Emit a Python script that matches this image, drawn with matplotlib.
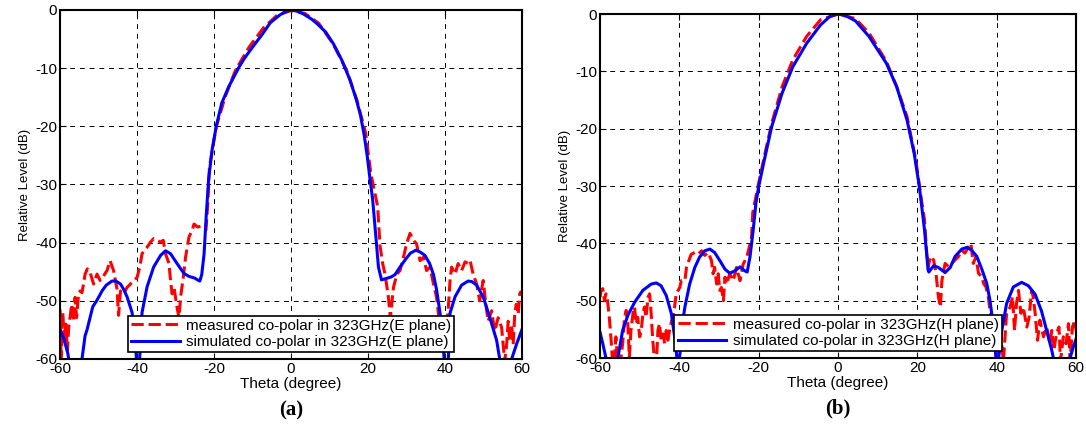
import matplotlib
matplotlib.use('Agg')
import matplotlib.pyplot as plt

plt.rcParams['font.family'] = ['Liberation Sans', 'DejaVu Sans']
plt.rcParams['axes.unicode_minus'] = False

# E plane, simulated (theta in degree, level in dB)
e_sim_theta = [-60, -59, -58, -57.5, -56, -55, -54.3, -53.5, -53, -51.5, -50.5, -49, -48, -46.5,
               -45.5, -44.3, -43.5, -42.6, -41.3, -40.5, -40, -39.5, -38.7, -37.4, -35.7, -33.9,
               -32.6, -31.3, -29.6, -27.8, -26.5, -25, -24.3, -23.7, -23.2, -22.6, -22.0, -21.4,
               -20.5, -19.4, -18, -16.2, -13.5, -12, -9.9, -7.5, -5.4, -3, -1.5, 0, 1.5, 3, 5.4,
               7, 9, 11, 13.1, 15.3, 17, 18, 19, 19.8, 20.5, 21.2, 22.1, 22.7, 23.5, 24.5, 26, 27,
               28.3, 29.7, 31, 32.4, 33.5, 34.8, 36, 37, 37.8, 38.7, 39.5, 40, 40.7, 41.3, 42.6,
               44.3, 46, 47, 48.2, 49.9, 51.6, 53.4, 54.2, 55, 56.5, 57.3, 58.6, 60]
e_sim_db = [-55, -56.5, -59, -61, -66, -63, -60, -56, -55, -51, -50, -48.2, -47.3, -46.6,
            -46.6, -47.1, -48, -49.3, -52, -56, -62, -62, -52, -47.6, -44.2, -42.2,
            -41.4, -41.9, -43.6, -45.3, -45.8, -46.1, -46.4, -46.6, -45.5, -42, -35, -29,
            -24, -19.9, -16, -13.2, -9.8, -8.2, -6.3, -4.2, -2.2, -0.9, -0.3, 0, -0.2, -0.6, -1.6,
            -2.5, -3.8, -5.8, -8.5, -12, -15.5, -18, -21.5, -25.2, -29, -32.6, -39.5, -44.2, -46.4,
            -46.2, -45.9, -45.5, -44.2, -42.9, -41.8, -41.3, -41.6, -42.2, -43.6, -45.5, -48.1,
            -52.1, -57, -63, -63, -52.1, -49.3, -47.3, -46.6, -46.7, -47.3, -49.3, -52.8, -56.8,
            -60, -64, -64, -60, -57.4, -54.9]

# E plane, measured
e_meas_theta = [-60, -59.7, -59.3, -58.9, -58.5, -58.1, -57.7, -57.4, -57, -56.5, -56.1, -55.7,
                -55.2, -54.8, -54.3, -53.9, -53.5, -52.9, -52.2, -51.3, -50.4, -49.6, -48.7,
                -47.8, -47, -46.1, -45.2, -44.8, -44.3, -43.5, -42.6, -41.7, -40.9, -40, -39.3,
                -38.7, -38.1, -37.4, -36.5, -35.7, -34.8, -33.9, -33.2, -32.6, -31.7, -31.3,
                -30.9, -30.4, -30, -29.6, -29.1, -28.7, -28, -27.4, -26.5, -25.7, -25.2, -24.3,
                -23.4, -22.1, -21.6, -21.2, -19.4, -17.1, -14.4, -10.8, -7.2, -3.6, 0, 3.6, 7.2,
                10.8, 14.4, 17.1, 19.4, 20.7, 21.6, 22.5, 23.1, 23.8, 24.4, 25.3, 25.8, 26.6,
                27.5, 28.3, 29.2, 30, 30.9, 31.8, 32.6, 33.5, 34.4, 35.2, 36.1, 37, 37.8, 38.3,
                38.7, 39.5, 40.3, 40.8, 41.3, 41.7, 42.6, 43.4, 44.3, 45.2, 46, 46.5, 47.3, 48.2,
                49, 49.9, 50.6, 51.2, 52.1, 52.9, 53.8, 54.7, 55.5, 56, 56.4, 56.8, 57.3, 57.7,
                58.1, 58.5, 59, 59.4, 59.8]
e_meas_db = [-51.5, -60.5, -52, -57, -54, -58.5, -54, -52.9, -50.6, -53.5, -49.4, -52.9,
             -48.8, -48.3, -48.6, -47.1, -45.4, -44.5, -45.1, -47.1, -45.4, -46.5, -45.7,
             -44.8, -43.1, -44.8, -48, -52.5, -48.3, -48.8, -47.7, -47.1, -46.5, -46, -44.2,
             -41.9, -41.3, -40.8, -39.9, -39.3, -39.6, -39.9, -39.6, -41.9, -43.6, -46.5,
             -48.8, -47.7, -49.4, -51.2, -52.9, -49.4, -46, -42.5, -39, -37.9, -36.8, -37.3,
             -37.2, -37.8, -33, -27, -20, -14.9, -10.3, -6.3, -3.1, -0.9, -0.1, -0.6, -2.3,
             -5.7, -10.3, -15.5, -21.2, -28, -30.9, -33.8, -40.5, -43.6, -45.4, -49.4, -53, -47.7,
             -45.4, -44.8, -42.5, -40.2, -38.4, -39.6, -40.2, -43.1, -42.5, -44.8, -44.2, -47.1,
             -49.4, -52.3, -55.2, -57, -55, -51.7, -46.5, -44.2, -45.4, -43.6, -44.8, -43.3,
             -43.6, -43.1, -45.4, -47.1, -50, -46.5, -50.6, -53.5, -51.7, -55.2, -52.9, -54.6,
             -60.5, -57.5, -53.5, -57, -54.1, -57.5, -52.3, -50.6, -52.3, -48.8, -48.3]

# H plane, simulated
h_sim_theta = [-60, -59.3, -58.5, -57.5, -56.5, -55.5, -54.3, -53, -51.3, -49.2, -47.1, -45.8,
               -44.6, -43.3, -42, -41.2, -40.6, -40.2, -39.8, -39.5, -38.6, -37.4, -36.1, -34.9,
               -33.6, -32.3, -31.1, -29.8, -28.5, -27.3, -26, -24.7, -23.5, -22.9, -22.2, -21.4,
               -20.7, -20, -18.4, -16.7, -14.1, -11.4, -7.9, -4.4, -2, 0, 2, 4.4, 7.8, 12.2, 14.8,
               17.4, 19.2, 20.5, 21.8, 22.7, 22.9, 24.1, 25.3, 27, 28.3, 29.5, 31.2, 32.5, 33.7,
               35, 36.2, 37.5, 38.3, 39.2, 39.6, 39.8, 40.1, 40.5, 41.3, 42.5, 44.2, 46.3, 48,
               49.7, 51.3, 52.6, 53.9, 54.3, 55.5, 57.5, 58.5, 59.3, 60]
h_sim_db = [-55.5, -57.5, -60, -64, -64, -60, -55.2, -52.6, -50.3, -48.2, -47.1, -46.9,
            -47.4, -49.1, -52.3, -56.3, -60, -61, -59, -55.2, -51.1, -47.1, -44.2, -42.4,
            -41.3, -41, -41.6, -43, -44.5, -45.2, -44.8, -44.1, -44.8, -45, -42.4, -37.8,
            -33, -30.1, -24.9, -19.6, -13.8, -9.2, -5.1, -1.9, -0.4, 0, -0.3, -1.2, -3.9, -8.6, -12.7,
            -18.5, -24.3, -30.1, -37.6, -44.6, -45, -43.9, -44.2, -45.1, -44.2, -42.3, -41, -40.7, -41.2,
            -42.3, -44.4, -47, -49.9, -54.6, -58.1, -60, -61, -60, -55.2, -50.5, -47.6, -46.8, -47.4,
            -48.9, -51.8, -55.2, -58.7, -60, -64, -64, -60, -58.1, -56.7]

# H plane, measured
h_meas_theta = [-60, -59.7, -59.3, -58.9, -58.5, -58.1, -57.6, -57.2, -56.8, -56.4, -56, -55.5,
                -54.9, -54.3, -53.8, -53.4, -53, -52.6, -52.2, -51.7, -51.3, -50.9, -50.5, -50,
                -49.6, -49.2, -48.8, -48.4, -47.9, -47.5, -47.1, -46.7, -46.2, -45.8, -45.4, -45,
                -44.6, -44.1, -43.7, -43.3, -42.9, -42.3, -41.7, -41.2, -40.8, -39.9, -39.5,
                -38.6, -38.2, -37.6, -37, -36.1, -35.3, -34.4, -33.6, -32.7, -31.9, -31.5, -31.1,
                -30.6, -30.2, -29.8, -29.4, -28.9, -28.5, -28.1, -27.3, -26.4, -25.6, -24.7,
                -23.9, -23, -22.6, -21.8, -21.5, -20.2, -18.4, -16.7, -14.1, -11.4, -7.9, -4.4, 0,
                4.4, 7.9, 12.2, 14.8, 17.4, 19.6, 20.9, 21.8, 22.4, 22.8, 23.2, 24.1, 24.7, 25.3,
                25.8, 26.2, 27, 27.9, 28.7, 29.5, 30.4, 31.2, 32, 32.9, 33.5, 34.1, 34.8, 35.4,
                36.2, 36.7, 37.3, 37.9, 38.3, 39, 39.6, 40, 40.9, 41.7, 42.5, 43.4, 44, 44.5, 45,
                45.5, 46.1, 46.7, 47.6, 48.2, 48.8, 49.2, 49.7, 50.3, 50.9, 51.8, 52.6, 53.4, 53.9,
                54.4, 55.1, 55.7, 56.1, 56.8, 57.5, 58.1, 58.5, 59.1, 59.7, 60]
h_meas_db = [-49.4, -48.2, -47.9, -50, -48.8, -50, -53.4, -56.9, -61, -61, -56.3, -61,
             -61, -57.5, -52.9, -51.7, -54, -59.8, -55.2, -52.3, -51.1, -54, -52.9, -56.3,
             -55.2, -52.3, -51.1, -52.9, -49.4, -48.8, -52.3, -56.9, -61, -61, -55.2, -54,
             -56.9, -55.8, -57.5, -55.2, -56.9, -54.5, -53, -51.1, -48.8, -47.7, -46.5,
             -46.5, -44.2, -43, -41.9, -41.6, -41.9, -41.3, -42.1, -41.6, -43, -45.3, -44.2,
             -47.1, -45.3, -48.2, -47.7, -50, -45.9, -47.1, -45.3, -46.5, -44.2, -46.5,
             -43.6, -42.4, -41.3, -39, -34.7, -30.1, -24.3, -19, -12.7, -8, -3.9, -1, 0,
             -0.8, -3.4, -8.3, -12.7, -17.9, -25.4, -31.8, -35.9, -42, -44.1, -42.3, -42.9, -45.2, -49.3,
             -51.1, -46.4, -43.5, -44.1, -43.5, -42.9, -42.3, -41.2, -41.7, -40.6, -40, -43.5, -42.3, -45.2,
             -45.8, -47, -47.6, -49.3, -51.7, -54, -56.9, -59.8, -55.2, -60.5, -52.2, -51.1, -49.3, -55.2, -50.5,
             -48.2, -52.2, -51.1, -54.6, -52.8, -48.2, -49.3, -52.2, -56.9, -53.4, -56.3, -54.6, -57.5, -55.2,
             -58.7, -55.7, -54.6, -60.5, -56.3, -57.5, -54, -60.5, -54.6, -53.4, -55.2]

panels = [
    (e_meas_theta, e_meas_db, e_sim_theta, e_sim_db, 'E plane', '(a)'),
    (h_meas_theta, h_meas_db, h_sim_theta, h_sim_db, 'H plane', '(b)'),
]
axes_pos = [[0.0553, 0.1553, 0.4254, 0.8212], [0.5525, 0.1576, 0.4383, 0.8094]]

fig = plt.figure(figsize=(10.86, 4.25), dpi=100)

for (mt, md, st, sd, plane, tag), pos in zip(panels, axes_pos):
    ax = fig.add_axes(pos)
    ax.plot(mt, md, color='#ff0000', ls='--', lw=2.2, dashes=(4, 1.6),
            label='measured co-polar in 323GHz(%s)' % plane)
    ax.plot(st, sd, color='#0000ff', ls='-', lw=2.2,
            label='simulated co-polar in 323GHz(%s)' % plane)
    ax.set_xlim(-60, 60)
    ax.set_ylim(-60, 0)
    ax.set_xticks(range(-60, 61, 20))
    ax.set_yticks(range(-60, 1, 10))
    ax.grid(True, color='black', ls=(0, (5, 5)), lw=0.7)
    ax.tick_params(direction='in', top=True, right=True, length=4, labelsize=11, pad=2)
    for sp in ax.spines.values():
        sp.set_linewidth(1.5)
    ax.set_xlabel('Theta (degree)', fontsize=11, labelpad=1)
    ax.set_ylabel('Relative Level (dB)', fontsize=9.5, labelpad=3)
    leg = ax.legend(loc='lower center', bbox_to_anchor=(0.5, 0.02), borderaxespad=0,
                    fontsize=11, handlelength=3.2, borderpad=0.2, labelspacing=0.15,
                    handletextpad=0.4, fancybox=False, framealpha=1)
    leg.get_frame().set_edgecolor('black')
    leg.get_frame().set_linewidth(1.2)
    ax.text(0.5, -0.148, tag, transform=ax.transAxes, ha='center', va='center',
            fontsize=15, fontweight='bold', family='Liberation Serif')

fig.savefig('out.png', dpi=100)
